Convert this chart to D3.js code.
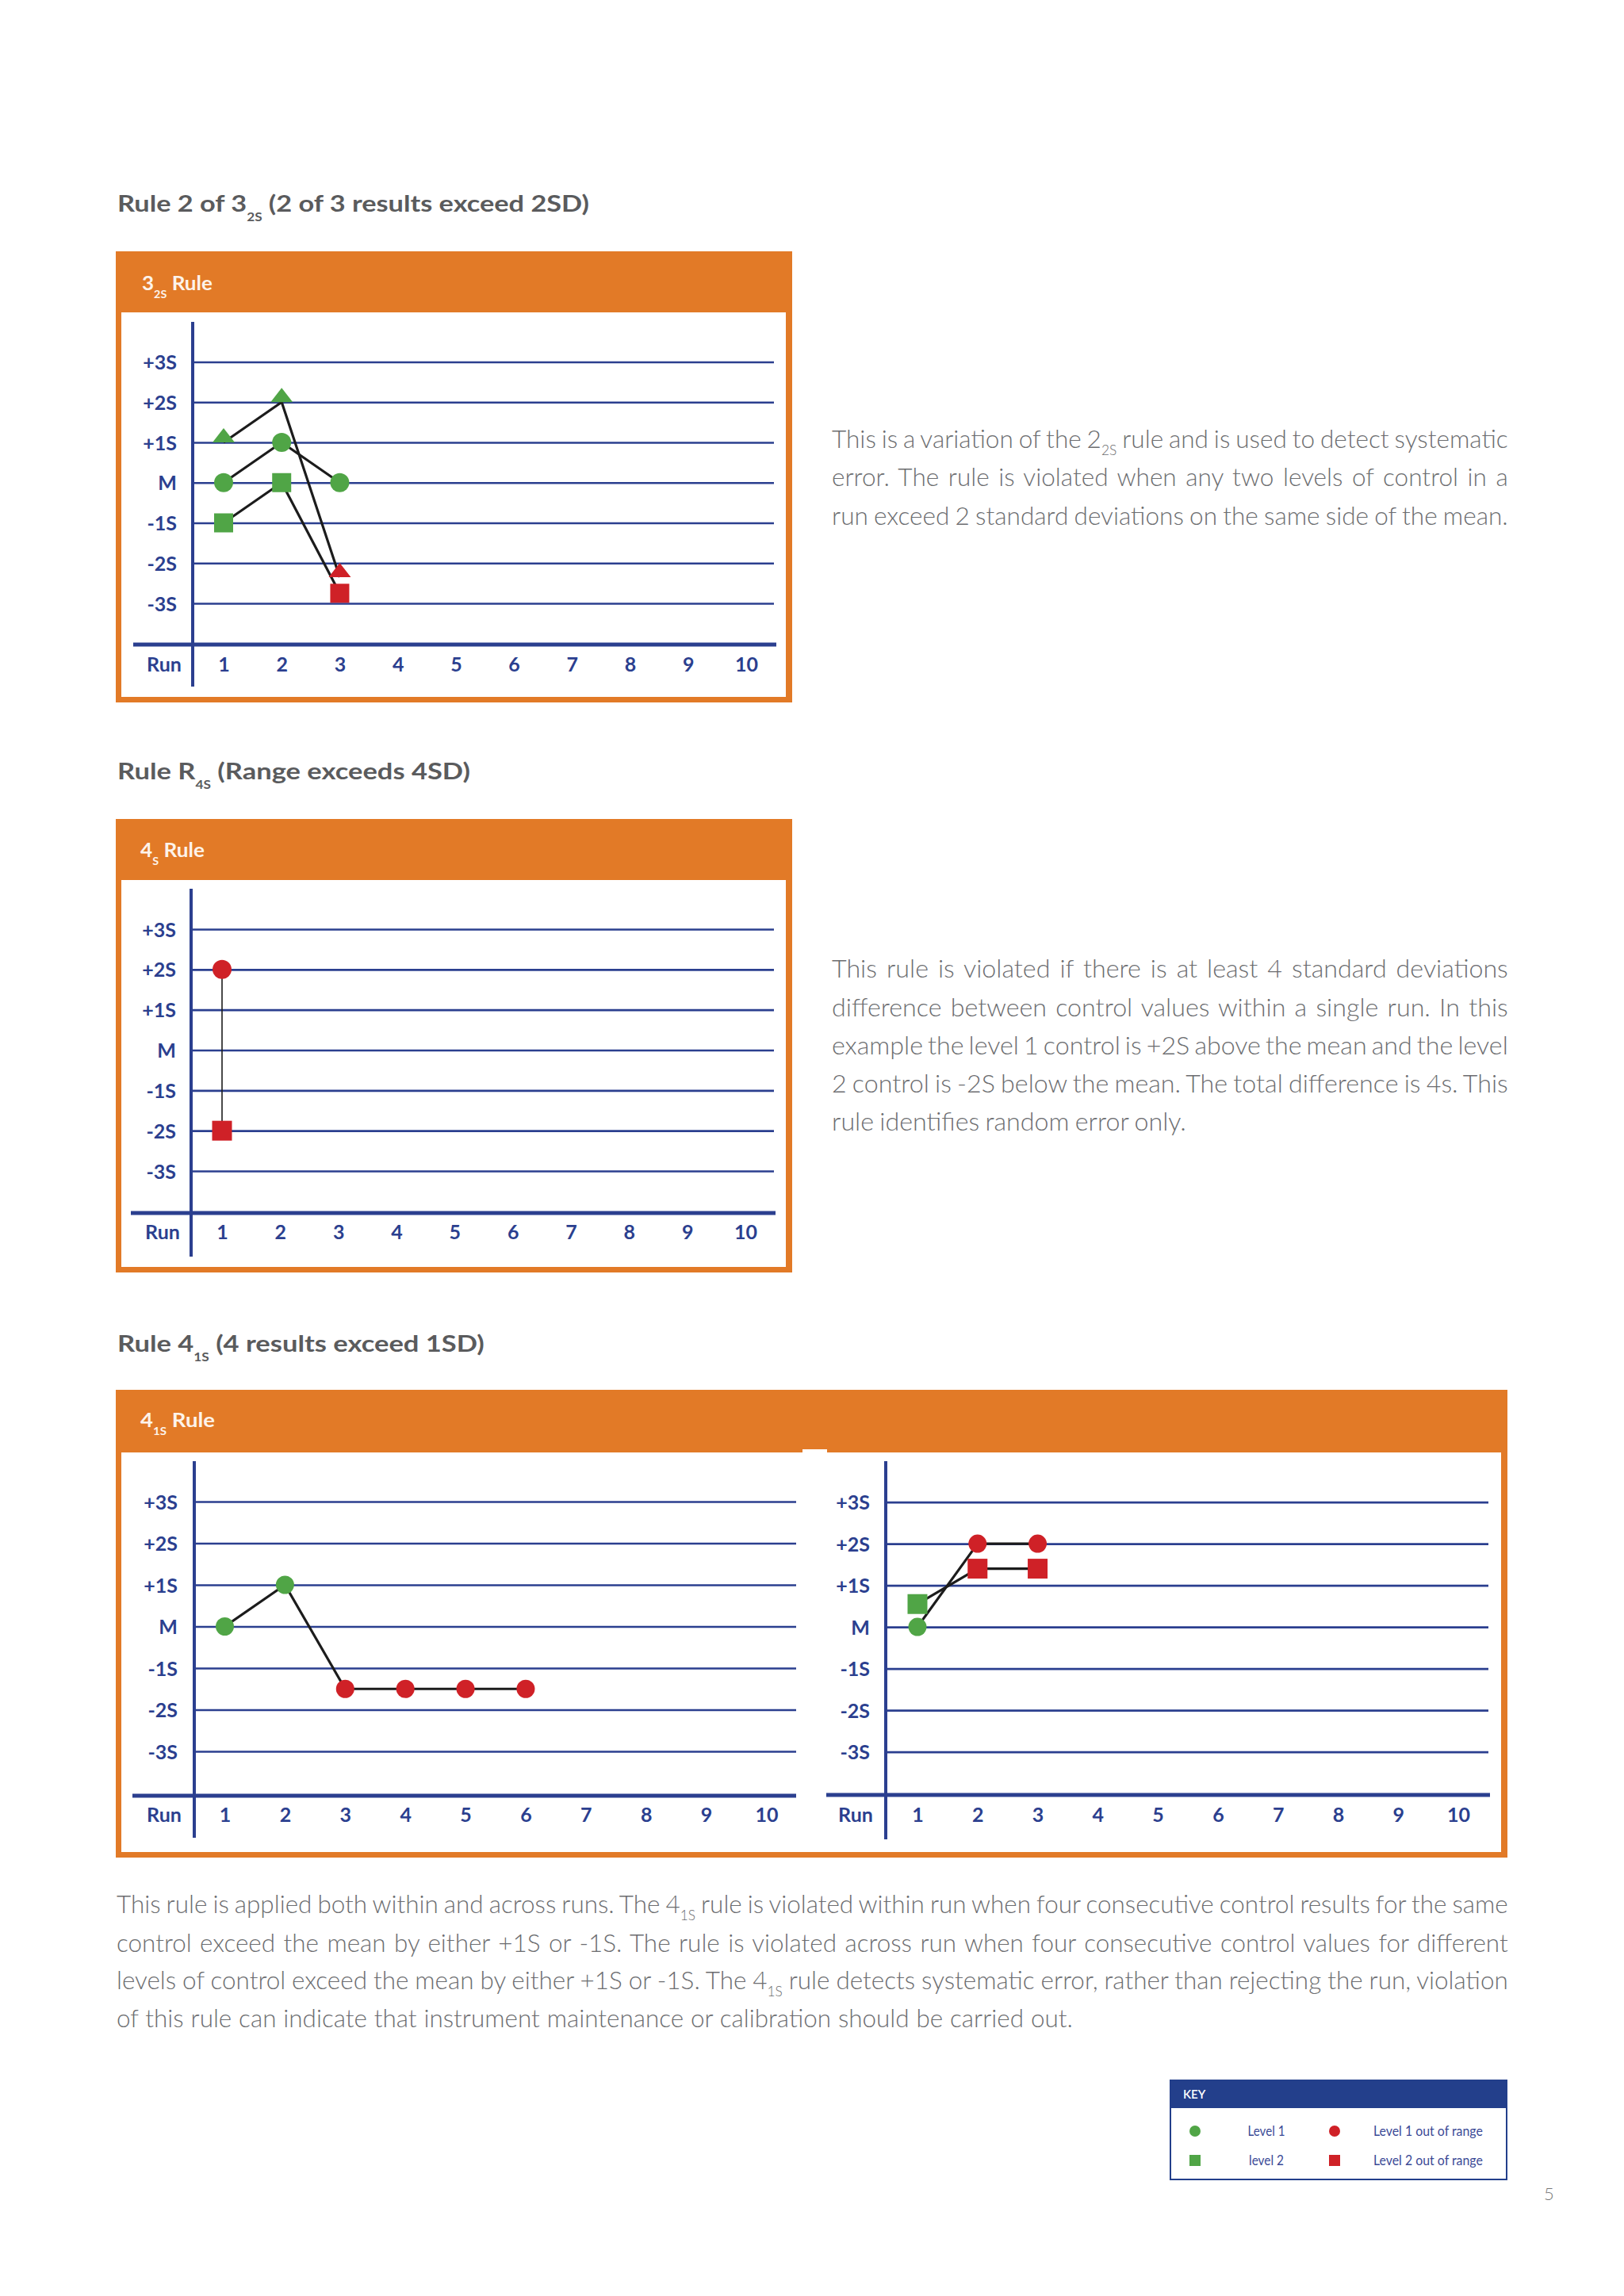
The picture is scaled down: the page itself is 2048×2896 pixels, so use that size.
<!DOCTYPE html>
<html><head><meta charset="utf-8">
<script src="https://cdn.jsdelivr.net/npm/d3@7"></script>
<style>html,body{margin:0;padding:0;background:#fff;} svg{display:block;}</style>
</head><body>
<script>
// ---------------- DATA ----------------
const runs = [1, 2, 3, 4, 5, 6, 7, 8, 9, 10];
const sdLevels = [3, 2, 1, 0, -1, -2, -3];
const sdLabels = ["+3S", "+2S", "+1S", "M", "-1S", "-2S", "-3S"];
const runAxisLabel = "Run";

const sectionTitles = [
  "Rule 2 of 3_{2S} (2 of 3 results exceed 2SD)",
  "Rule R_{4S} (Range exceeds 4SD)",
  "Rule 4_{1S} (4 results exceed 1SD)"
];
const panelHeaders = ["3_{2S} Rule", "4_{S} Rule", "4_{1S} Rule"];

// Chart 1: 3(2S) rule
const rule32sRuns = [1, 2, 3];
const rule32sLevel1 = [0, 1, 0];
const rule32sLevel1Out = [false, false, false];
const rule32sLevel2 = [-1, 0, -2.75];
const rule32sLevel2Out = [false, false, true];
const rule32sLevel3 = [1, 2, -2.35];
const rule32sLevel3Out = [false, false, true];

// Chart 2: R4S rule
const rule4sRuns = [1];
const rule4sLevel1 = [2];
const rule4sLevel1Out = [true];
const rule4sLevel2 = [-2];
const rule4sLevel2Out = [true];

// Chart 3 left: 4(1S) within run
const rule41sWithinRuns = [1, 2, 3, 4, 5, 6];
const rule41sWithinLevel1 = [0, 1, -1.5, -1.5, -1.5, -1.5];
const rule41sWithinLevel1Out = [false, false, true, true, true, true];

// Chart 3 right: 4(1S) across runs
const rule41sAcrossRuns = [1, 2, 3];
const rule41sAcrossLevel1 = [0, 2, 2];
const rule41sAcrossLevel1Out = [false, true, true];
const rule41sAcrossLevel2 = [0.55, 1.4, 1.4];
const rule41sAcrossLevel2Out = [false, true, true];

// Text
const para1Lines = [
  "This is a variation of the 2_{2S} rule and is used to detect systematic",
  "error. The rule is violated when any two levels of control in a",
  "run exceed 2 standard deviations on the same side of the mean."
];
const para2Lines = [
  "This rule is violated if there is at least 4 standard deviations",
  "difference between control values within a single run. In this",
  "example the level 1 control is +2S above the mean and the level",
  "2 control is -2S below the mean. The total difference is 4s. This",
  "rule identifies random error only."
];
const para3Lines = [
  "This rule is applied both within and across runs. The 4_{1S} rule is violated within run when four consecutive control results for the same",
  "control exceed the mean by either +1S or -1S. The rule is violated across run when four consecutive control values for different",
  "levels of control exceed the mean by either +1S or -1S. The 4_{1S} rule detects systematic error, rather than rejecting the run, violation",
  "of this rule can indicate that instrument maintenance or calibration should be carried out."
];

const legendTitle = "KEY";
const legendLabels = ["Level 1", "level 2", "Level 1 out of range", "Level 2 out of range"];
const legendShapes = ["circle", "square", "circle", "square"];
const legendOut = [false, false, true, true];
const pageNumber = "5";

// ---------------- STYLE ----------------
const NAVY = "#2b3f8f", ORANGE = "#e27a27", GREEN = "#50a546", RED = "#cf2127";
const TITLE_GREY = "#5a5b5d", BODY_GREY = "#6c6d70", KEY_NAVY = "#233f8b";
const BODY = "Lato, 'Open Sans', sans-serif";

const svg = d3.select("body").append("svg").attr("width", 2048).attr("height", 2896);
svg.append("rect").attr("width", 2048).attr("height", 2896).attr("fill", "#fff");

function richText(sel, str, fs, subScale, subShift) {
  const parts = str.split(/_\{([^}]*)\}/);
  let shifted = false;
  parts.forEach((p, i) => {
    if (!p) return;
    const t = sel.append("tspan").text(p);
    if (i % 2 === 1) { t.attr("font-size", fs * subScale).attr("dy", fs * subShift); shifted = true; }
    else if (shifted) { t.attr("dy", -fs * subShift); shifted = false; }
  });
}

function fittedText(parent, str, x0, baseline, target, opts) {
  const t = parent.append("text").attr("x", 0).attr("y", 0)
    .attr("font-family", opts.family || BODY).attr("font-weight", opts.weight || 400)
    .attr("font-size", opts.fs).attr("fill", opts.fill).style("white-space", "pre");
  richText(t, str, opts.fs, opts.subScale || 0.55, opts.subShift || 0.38);
  const w = t.node().getComputedTextLength();
  const k = target / w;
  const anchorX = opts.anchor === "middle" ? x0 - target / 2 : x0;
  t.attr("transform", `translate(${anchorX},${baseline}) scale(${k},1)`);
  return t;
}

function drawParagraph(lines, x0, baselines, ends, fs) {
  const g = svg.append("g");
  const nodes = lines.map(ln => {
    const t = g.append("text").attr("x", 0).attr("y", 0)
      .attr("font-family", BODY).attr("font-weight", 300)
      .attr("font-size", fs).attr("fill", BODY_GREY).style("white-space", "pre");
    richText(t, ln, fs, 0.55, 0.3);
    return t;
  });
  const nat = nodes.map(t => t.node().getComputedTextLength());
  const k = d3.mean(nat.map((w, i) => (ends[i] - x0) / w));
  nodes.forEach((t, i) => {
    const spaces = (lines[i].replace(/_\{[^}]*\}/g, "").match(/ /g) || []).length;
    const ws = ((ends[i] - x0) / k - nat[i]) / Math.max(spaces, 1);
    t.style("word-spacing", ws + "px")
      .attr("transform", `translate(${x0},${baselines[i]}) scale(${k},1)`);
  });
}

const flatTriangle = {
  draw(ctx, size) {
    const half = size / 2, h = size * 0.64;
    ctx.moveTo(0, -h); ctx.lineTo(half, 0); ctx.lineTo(-half, 0); ctx.closePath();
  }
};

function drawBox(b, header, headerX, headerBase, headerWidth) {
  svg.append("rect").attr("x", b.x0).attr("y", b.y0).attr("width", b.x1 - b.x0).attr("height", b.y1 - b.y0).attr("fill", ORANGE);
  svg.append("rect").attr("x", b.x0 + 7).attr("y", b.wy0).attr("width", b.x1 - b.x0 - 15).attr("height", b.y1 - 7 - b.wy0).attr("fill", "#fff");
  fittedText(svg, header, headerX, headerBase, headerWidth, { fs: 24, weight: 700, fill: "#fdf3ea", subScale: 0.55, subShift: 0.4 });
}

function drawPanel(cfg, series, lineW, r, sq) {
  const g = svg.append("g");
  const x = d3.scaleLinear().domain([runs[0], runs[runs.length - 1]]).range([cfg.run1, cfg.run10]);
  const y = d3.scaleLinear().domain([sdLevels[sdLevels.length - 1], sdLevels[0]]).range([cfg.yBot, cfg.yTop]);

  const ya = g.append("g").attr("transform", `translate(${cfg.axisX},0)`)
    .call(d3.axisLeft(y).tickValues(sdLevels).tickFormat((d, i) => sdLabels[i])
      .tickSize(-(cfg.gridX1 - cfg.axisX)).tickPadding(cfg.pad));
  ya.select(".domain").remove();
  ya.selectAll(".tick line").attr("stroke", NAVY).attr("stroke-width", 2.6);
  ya.selectAll(".tick text").attr("fill", NAVY).attr("font-family", BODY).attr("font-weight", 700)
    .attr("font-size", 25).attr("dy", "0.36em");

  const xa = g.append("g").attr("transform", `translate(0,${cfg.xAxisY})`)
    .call(d3.axisBottom(x).tickValues(runs).tickSize(0));
  xa.select(".domain").remove();
  xa.selectAll(".tick text").attr("y", cfg.tickBase - cfg.xAxisY).attr("dy", 0)
    .attr("fill", NAVY).attr("font-family", BODY).attr("font-weight", 700).attr("font-size", 25);

  g.append("text").attr("x", cfg.runLabelX).attr("y", cfg.tickBase).attr("text-anchor", "middle")
    .attr("fill", NAVY).attr("font-family", BODY).attr("font-weight", 700).attr("font-size", 25).text(runAxisLabel);

  g.append("line").attr("x1", cfg.xAxisX0).attr("x2", cfg.xAxisX1).attr("y1", cfg.xAxisY).attr("y2", cfg.xAxisY)
    .attr("stroke", NAVY).attr("stroke-width", 5);
  g.append("line").attr("x1", cfg.axisX).attr("x2", cfg.axisX).attr("y1", cfg.axisY0).attr("y2", cfg.axisY1)
    .attr("stroke", NAVY).attr("stroke-width", 4);

  const line = d3.line().x(d => x(d.run)).y(d => y(d.v));
  const pts = series.map(s => s.runs.map((rn, i) => ({ run: rn, v: s.vals[i], out: s.outs[i], shape: s.shape })));
  pts.forEach(p => {
    g.append("path").datum(p).attr("d", line).attr("fill", "none").attr("stroke", "#1c1c1c")
      .attr("stroke-width", lineW).attr("stroke-linejoin", "round");
  });
  pts.forEach(p => {
    p.forEach(d => {
      const col = d.out ? RED : GREEN;
      if (d.shape === "circle") {
        g.append("circle").attr("cx", x(d.run)).attr("cy", y(d.v)).attr("r", r).attr("fill", col);
      } else if (d.shape === "square") {
        g.append("rect").attr("x", x(d.run) - sq / 2).attr("y", y(d.v) - sq / 2).attr("width", sq).attr("height", sq).attr("fill", col);
      } else if (d.shape === "triangle") {
        g.append("path").attr("d", d3.symbol().type(flatTriangle).size(28)())
          .attr("transform", `translate(${x(d.run)},${y(d.v)})`).attr("fill", col);
      }
    });
  });
}

// ---------------- TITLES ----------------
const titleOpts = { fs: 29, weight: 700, fill: TITLE_GREY, subScale: 0.5, subShift: 0.42 };
fittedText(svg, sectionTitles[0], 148, 267, 595, titleOpts);
fittedText(svg, sectionTitles[1], 148, 983, 445, titleOpts);
fittedText(svg, sectionTitles[2], 148, 1705, 463, titleOpts);

// ---------------- CHART 1 ----------------
drawBox({ x0: 146, x1: 999, y0: 317, y1: 886, wy0: 394 }, panelHeaders[0], 179, 366, 89);
drawPanel({ axisX: 243, axisY0: 406, axisY1: 866, gridX1: 976, xAxisX0: 168, xAxisX1: 979, xAxisY: 813,
  yTop: 456.5, yBot: 761, run1: 282, run10: 941, runLabelX: 207, pad: 20, tickBase: 847 },
  [
    { runs: rule32sRuns, vals: rule32sLevel1, outs: rule32sLevel1Out, shape: "circle" },
    { runs: rule32sRuns, vals: rule32sLevel2, outs: rule32sLevel2Out, shape: "square" },
    { runs: rule32sRuns, vals: rule32sLevel3, outs: rule32sLevel3Out, shape: "triangle" }
  ], 3.2, 12, 24);

// ---------------- CHART 2 ----------------
drawBox({ x0: 146, x1: 999, y0: 1033, y1: 1605, wy0: 1110 }, panelHeaders[1], 177, 1081, 81);
drawPanel({ axisX: 241, axisY0: 1121, axisY1: 1585, gridX1: 976, xAxisX0: 165, xAxisX1: 978, xAxisY: 1530,
  yTop: 1172, yBot: 1477, run1: 280, run10: 940, runLabelX: 205, pad: 19, tickBase: 1563 },
  [
    { runs: rule4sRuns.concat(rule4sRuns), vals: rule4sLevel1.concat(rule4sLevel2), outs: [false, false], shape: "none" },
    { runs: rule4sRuns, vals: rule4sLevel1, outs: rule4sLevel1Out, shape: "circle" },
    { runs: rule4sRuns, vals: rule4sLevel2, outs: rule4sLevel2Out, shape: "square" }
  ], 1.6, 12, 25);

// ---------------- CHART 3 ----------------
drawBox({ x0: 146, x1: 1901, y0: 1753, y1: 2343, wy0: 1832 }, panelHeaders[2], 177, 1800, 94);
svg.append("rect").attr("x", 1012).attr("y", 1828).attr("width", 31).attr("height", 508).attr("fill", "#fff");
drawPanel({ axisX: 245, axisY0: 1843, axisY1: 2318, gridX1: 1004, xAxisX0: 167, xAxisX1: 1004, xAxisY: 2265,
  yTop: 1894, yBot: 2209, run1: 283.5, run10: 966.5, runLabelX: 207, pad: 21, tickBase: 2298 },
  [
    { runs: rule41sWithinRuns, vals: rule41sWithinLevel1, outs: rule41sWithinLevel1Out, shape: "circle" }
  ], 3.2, 11.5, 25);
drawPanel({ axisX: 1117, axisY0: 1843, axisY1: 2320, gridX1: 1877, xAxisX0: 1042, xAxisX1: 1879, xAxisY: 2264,
  yTop: 1894.6, yBot: 2209.6, run1: 1157, run10: 1839, runLabelX: 1079, pad: 20, tickBase: 2298 },
  [
    { runs: rule41sAcrossRuns, vals: rule41sAcrossLevel1, outs: rule41sAcrossLevel1Out, shape: "circle" },
    { runs: rule41sAcrossRuns, vals: rule41sAcrossLevel2, outs: rule41sAcrossLevel2Out, shape: "square" }
  ], 3.2, 11.5, 25);

// ---------------- PARAGRAPHS ----------------
drawParagraph(para1Lines, 1049, [565, 613, 662], [1902, 1902, 1902], 31);
drawParagraph(para2Lines, 1049, [1233, 1282, 1330, 1378, 1426], [1902, 1902, 1902, 1902, 1496], 31);
drawParagraph(para3Lines, 147, [2413, 2462, 2509, 2557], [1902, 1902, 1902, 1353], 31);

// ---------------- LEGEND ----------------
const lg = svg.append("g");
lg.append("rect").attr("x", 1476).attr("y", 2624).attr("width", 424).attr("height", 125)
  .attr("fill", "#fff").attr("stroke", KEY_NAVY).attr("stroke-width", 2);
lg.append("rect").attr("x", 1476).attr("y", 2624).attr("width", 424).attr("height", 35).attr("fill", KEY_NAVY);
lg.append("text").attr("x", 1492).attr("y", 2647).attr("fill", "#fff").attr("font-family", BODY)
  .attr("font-weight", 600).attr("font-size", 15).text(legendTitle);
const keyMarkX = [1507, 1507, 1683, 1683], keyRowY = [2688, 2725, 2688, 2725];
const keyTextX = [1597, 1597, 1801, 1801], keyTextW = [47, 44, 138, 138];
legendLabels.forEach((lab, i) => {
  const col = legendOut[i] ? RED : GREEN;
  if (legendShapes[i] === "circle") {
    lg.append("circle").attr("cx", keyMarkX[i]).attr("cy", keyRowY[i]).attr("r", 7).attr("fill", col);
  } else {
    lg.append("rect").attr("x", keyMarkX[i] - 7).attr("y", keyRowY[i] - 7).attr("width", 14).attr("height", 14).attr("fill", col);
  }
  fittedText(lg, lab, keyTextX[i], keyRowY[i] + 6, keyTextW[i], { fs: 17, weight: 400, fill: "#3b4a96", anchor: "middle" });
});

svg.append("text").attr("x", 1947).attr("y", 2775).attr("font-family", BODY).attr("font-weight", 300)
  .attr("font-size", 22).attr("fill", "#777").text(pageNumber);
</script>
</body></html>
